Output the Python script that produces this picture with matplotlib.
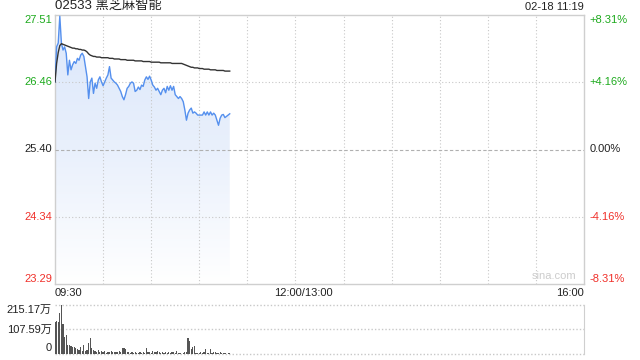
import numpy as np
import matplotlib
matplotlib.use("Agg")
import matplotlib.pyplot as plt
from matplotlib.colors import LinearSegmentedColormap

plt.rcParams['font.family'] = ['Liberation Sans', 'Noto Sans CJK SC', 'DejaVu Sans']

# ---- data ----
title = "02533 黑芝麻智能"
stamp = "02-18 11:19"
prev_close = 25.40
price_ticks = [27.51, 26.46, 25.40, 24.34, 23.29]
pct_labels = ["+8.31%", "+4.16%", "0.00%", "-4.16%", "-8.31%"]
time_labels = ["09:30", "12:00/13:00", "16:00"]
vol_ticks = [215.17, 107.59, 0]
vol_labels = ["215.17万", "107.59万", "0"]

# one point per minute from 09:30
price = [26.46, 27.01, 27.07, 27.49, 27.07, 26.96, 27.01, 26.91, 26.57, 26.80,
         26.65, 26.73, 26.78, 26.75, 26.83, 26.80, 26.88, 26.91, 26.86, 26.70,
         26.54, 26.20, 26.46, 26.52, 26.28, 26.44, 26.36, 26.49, 26.54, 26.46,
         26.40, 26.46, 26.52, 26.57, 26.70, 26.52, 26.49, 26.46, 26.44, 26.41,
         26.36, 26.31, 26.23, 26.18, 26.26, 26.36, 26.39, 26.44, 26.46, 26.44,
         26.31, 26.33, 26.38, 26.34, 26.41, 26.39, 26.49, 26.54, 26.50, 26.55,
         26.49, 26.41, 26.38, 26.33, 26.36, 26.31, 26.26, 26.33, 26.36, 26.29,
         26.39, 26.33, 26.40, 26.33, 26.39, 26.26, 26.23, 26.20, 26.23, 26.20,
         26.15, 26.02, 25.86, 25.97, 26.02, 26.05, 25.97, 25.99, 25.97, 25.94,
         25.94, 25.94, 25.94, 25.99, 25.94, 25.99, 25.94, 25.99, 25.94, 25.97,
         25.94, 25.86, 25.78, 25.89, 25.94, 25.95, 25.90, 25.92, 25.94, 25.96]

avg_price = [26.46, 26.75, 26.92, 27.03, 27.06, 27.05, 27.04, 27.03, 27.02, 27.01,
             27.00, 26.99, 26.99, 26.98, 26.98, 26.97, 26.97, 26.96, 26.96, 26.95,
             26.93, 26.90, 26.88, 26.87, 26.86, 26.86, 26.85, 26.85, 26.85, 26.84,
             26.84, 26.84, 26.84, 26.84, 26.83, 26.83, 26.83, 26.82, 26.82, 26.82,
             26.82, 26.81, 26.81, 26.81, 26.81, 26.80, 26.80, 26.80, 26.80, 26.80,
             26.79, 26.79, 26.79, 26.79, 26.79, 26.78, 26.78, 26.78, 26.78, 26.78,
             26.77, 26.77, 26.77, 26.77, 26.77, 26.77, 26.76, 26.76, 26.76, 26.76,
             26.76, 26.76, 26.76, 26.75, 26.75, 26.75, 26.75, 26.75, 26.75, 26.75,
             26.74, 26.73, 26.72, 26.71, 26.70, 26.69, 26.69, 26.68, 26.68, 26.68,
             26.67, 26.67, 26.67, 26.66, 26.66, 26.66, 26.66, 26.65, 26.65, 26.65,
             26.65, 26.64, 26.64, 26.64, 26.64, 26.64, 26.63, 26.63, 26.63, 26.63]

volume = [139, 145, 142, 179, 215, 130, 76, 83, 40, 40,
          35, 32, 29, 25, 22, 18, 32, 13, 40, 13,
          18, 47, 72, 25, 18, 13, 10, 16, 7, 12,
          9, 15, 6, 10, 8, 12, 9, 7, 10, 7,
          12, 9, 25, 28, 20, 8, 7, 4, 8, 4,
          7, 5, 6, 8, 4, 8, 5, 25, 10, 7,
          5, 13, 7, 10, 13, 7, 4, 8, 5, 10,
          6, 8, 4, 10, 7, 5, 12, 6, 4, 2,
          3, 8, 10, 69, 58, 20, 29, 35, 5, 3,
          4, 7, 5, 7, 22, 6, 4, 22, 6, 7,
          10, 6, 4, 7, 5, 3, 4, 2, 3, 3]

minutes = np.arange(len(price))
total_minutes = 330
fs = 8

green = '#1daa1d'
red = '#f0302a'
grid_c = '#c8c8c8'
border_c = '#cfcfcf'
line_c = '#5590ee'
txt_c = '#222222'

fig = plt.figure(figsize=(6.4, 3.6), dpi=100)
ax = fig.add_axes([55/640, 1-284/360, 529/640, 269/360])
axv = fig.add_axes([55/640, 1-354/360, 529/640, 49/360])

# ---- main price panel ----
ymin, ymax = price_ticks[-1], price_ticks[0]
ax.set_xlim(0, total_minutes)
ax.set_ylim(ymin, ymax)

for x in range(30, total_minutes, 30):
    ax.axvline(x, color=grid_c, lw=0.8, ls=(0, (1, 2)), zorder=3)
for v in price_ticks[1:-1]:
    if v == prev_close:
        ax.axhline(v, color='#b0b0b0', lw=0.8, ls=(0, (3, 2)), zorder=3)
    else:
        ax.axhline(v, color=grid_c, lw=0.8, ls=(0, (1, 2)), zorder=3)

# gradient fill under price
poly = ax.fill_between(minutes, price, ymin, facecolor='none', edgecolor='none')
cmap = LinearSegmentedColormap.from_list('g', ['#ffffff', '#e9f0fc', '#dbe7fb'])
grad = np.linspace(0, 1, 256).reshape(-1, 1)
im = ax.imshow(grad, cmap=cmap, aspect='auto', origin='lower',
               extent=[0, total_minutes, ymin, ymax], zorder=2)
im.set_clip_path(poly.get_paths()[0], transform=ax.transData)

ax.plot(minutes, price, color=line_c, lw=1.0, zorder=4)
ax.plot(minutes, avg_price, color='#333333', lw=1.0, zorder=4)

ax.set_xticks([])
ax.set_yticks([])
for s in ax.spines.values():
    s.set_color(border_c)
    s.set_linewidth(1.0)

n = len(price_ticks)
for i, (v, lab) in enumerate(zip(price_ticks, pct_labels)):
    c = green if v > prev_close else (red if v < prev_close else txt_c)
    va = 'top' if i == 0 else ('bottom' if i == n - 1 else 'center')
    ax.text(-0.006, v, f"{v:.2f}", transform=ax.get_yaxis_transform(),
            ha='right', va=va, color=c, fontsize=fs)
    ax.text(1.01, v, lab, transform=ax.get_yaxis_transform(),
            ha='left', va=va, color=c, fontsize=fs)

ax.text(0, 1.012, title, transform=ax.transAxes, ha='left', va='bottom',
        fontsize=9.5, color=txt_c)
ax.text(1, 1.012, stamp, transform=ax.transAxes, ha='right', va='bottom',
        fontsize=fs, color=txt_c)
ax.text(0.985, 0.012, "sina.com", transform=ax.transAxes, ha='right', va='bottom',
        fontsize=8, color='#cccccc')

ax.text(0, -0.015, time_labels[0], transform=ax.transAxes, ha='left', va='top',
        fontsize=fs, color=txt_c)
ax.text(155, -0.015, time_labels[1], transform=ax.get_xaxis_transform(), ha='center', va='top',
        fontsize=fs, color=txt_c)
ax.text(1, -0.015, time_labels[2], transform=ax.transAxes, ha='right', va='top',
        fontsize=fs, color=txt_c)

# ---- volume panel ----
axv.set_xlim(0, total_minutes)
axv.set_ylim(0, vol_ticks[0])
for v in vol_ticks:
    axv.axhline(v, color=grid_c, lw=1.0, ls=(0, (1, 1.5)), zorder=1, clip_on=False)
axv.bar(minutes, volume, width=0.75, color='#555555', zorder=3)
axv.set_xticks([])
axv.set_yticks([])
for k, s in axv.spines.items():
    s.set_visible(k == 'right')
    s.set_color(border_c)
axv.text(-0.006, vol_ticks[0], vol_labels[0], transform=axv.get_yaxis_transform(),
         ha='right', va='top', fontsize=fs, color=txt_c)
axv.text(-0.006, vol_ticks[1], vol_labels[1], transform=axv.get_yaxis_transform(),
         ha='right', va='center', fontsize=fs, color=txt_c)
axv.text(-0.006, vol_ticks[2] + 6, vol_labels[2], transform=axv.get_yaxis_transform(),
         ha='right', va='bottom', fontsize=fs, color=txt_c)

fig.savefig("out.png", dpi=100)
